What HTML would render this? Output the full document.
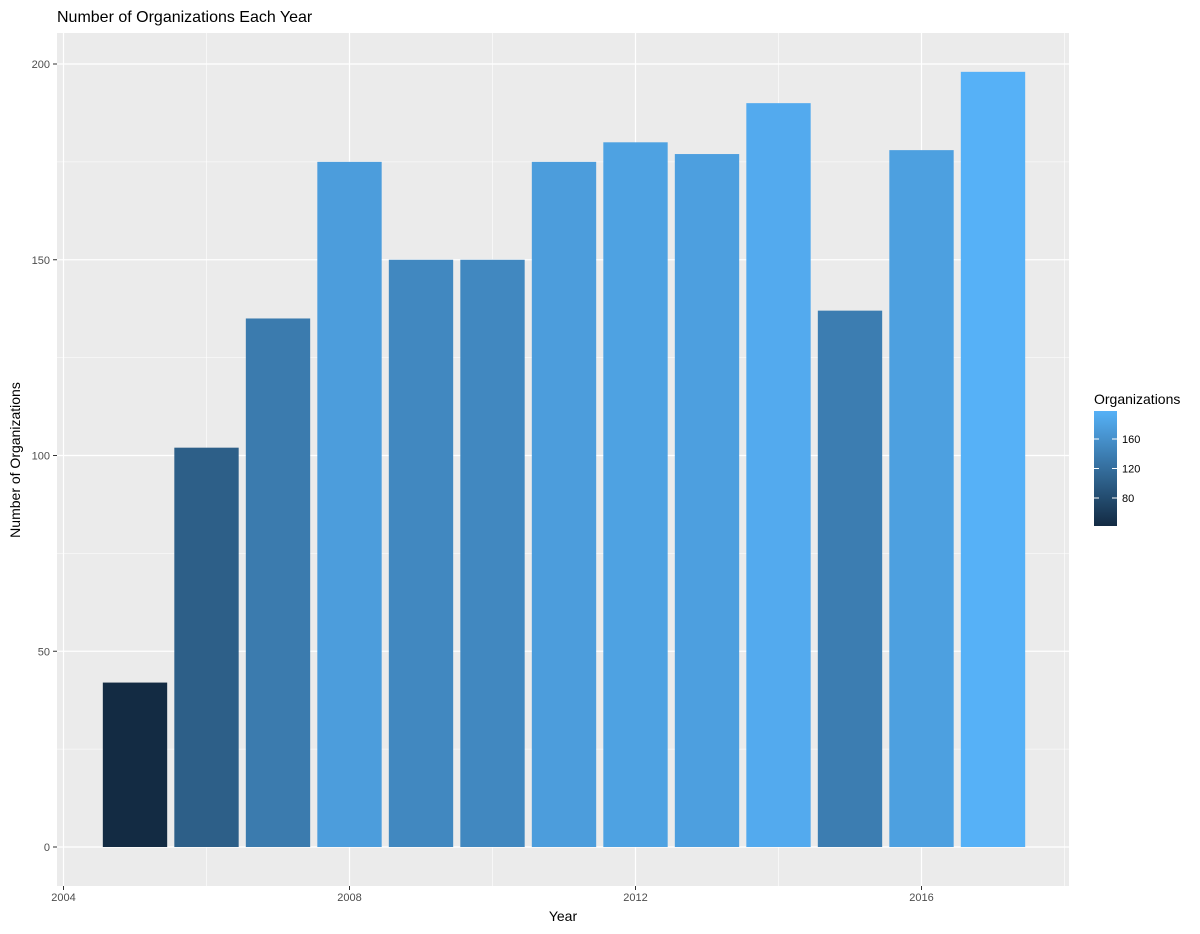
<!DOCTYPE html>
<html><head><meta charset="utf-8"><style>
body{margin:0;background:#fff;font-family:"Liberation Sans",sans-serif;}
svg text{font-family:"Liberation Sans",sans-serif;}
</style></head><body>
<svg id="chart" width="1200" height="929"></svg>
<script>
const years=[2005,2006,2007,2008,2009,2010,2011,2012,2013,2014,2015,2016,2017];
const counts=[42,102,135,175,150,150,175,180,177,190,137,178,198];
const yTicks=[0,50,100,150,200];
const xTicks=[2004,2008,2012,2016];
const legendTicks=[80,120,160];

const NS="http://www.w3.org/2000/svg";
const svg=document.getElementById('chart');
function el(tag,attrs,parent){const e=document.createElementNS(NS,tag);for(const k in attrs)e.setAttribute(k,attrs[k]);(parent||svg).appendChild(e);return e;}
const px0=57,px1=1069,py0=33,py1=886;
const xs=y=>63.5+(y-2004)*71.5;
const ys=v=>847-v*3.915;
const cmin=Math.min(...counts),cmax=Math.max(...counts);
function col(v){const t=(v-cmin)/(cmax-cmin);const a=[19,43,67],b=[86,177,247];return `rgb(${a.map((c,i)=>Math.round(c+(b[i]-c)*t)).join(',')})`;}

const panel=el('rect',{x:px0,y:py0,width:px1-px0,height:py1-py0,fill:'#EBEBEB'});

for(let i=0;i<yTicks.length-1;i++){const v=(yTicks[i]+yTicks[i+1])/2;el('line',{x1:px0,x2:px1,y1:ys(v),y2:ys(v),stroke:'#fff','stroke-width':0.6});}
for(let i=0;i<xTicks.length-1;i++){const v=(xTicks[i]+xTicks[i+1])/2;el('line',{x1:xs(v),x2:xs(v),y1:py0,y2:py1,stroke:'#fff','stroke-width':0.6});}
{const v=2018;el('line',{x1:xs(v),x2:xs(v),y1:py0,y2:py1,stroke:'#fff','stroke-width':0.6});}
yTicks.forEach(v=>{el('line',{x1:px0,x2:px1,y1:ys(v),y2:ys(v),stroke:'#fff','stroke-width':1.2});
 el('line',{x1:px0-4,x2:px0,y1:ys(v),y2:ys(v),stroke:'#333','stroke-width':1});
 const t=el('text',{x:px0-7,y:ys(v)+4,'text-anchor':'end','font-size':11,fill:'#4D4D4D'});t.textContent=v;
 });
xTicks.forEach(v=>{el('line',{x1:xs(v),x2:xs(v),y1:py0,y2:py1,stroke:'#fff','stroke-width':1.2});
 el('line',{x1:xs(v),x2:xs(v),y1:py1,y2:py1+4,stroke:'#333','stroke-width':1});
 const t=el('text',{x:xs(v),y:py1+15,'text-anchor':'middle','font-size':11,fill:'#4D4D4D'});t.textContent=v;
 });
years.forEach((y,i)=>{const w=0.9*71.5;
 const r=el('rect',{x:xs(y)-w/2,y:ys(counts[i]),width:w,height:ys(0)-ys(counts[i]),fill:col(counts[i])});
 });
let t=el('text',{x:57,y:22,'font-size':16,fill:'#000'});t.textContent='Number of Organizations Each Year';

t=el('text',{x:563,y:921,'text-anchor':'middle','font-size':14,fill:'#000'});t.textContent='Year';

t=el('text',{x:0,y:0,'text-anchor':'middle','font-size':14,fill:'#000',transform:'translate(20,460) rotate(-90)'});t.textContent='Number of Organizations';

t=el('text',{x:1094,y:404,'font-size':14,fill:'#000'});t.textContent='Organizations';

const defs=el('defs',{});const g=el('linearGradient',{id:'lg',x1:0,y1:1,x2:0,y2:0},defs);
for(let k=0;k<=10;k++){el('stop',{offset:k/10,'stop-color':col(cmin+(cmax-cmin)*k/10)},g);}
const lt=411,lb=526,ly=v=>lb-(v-cmin)/(cmax-cmin)*(lb-lt);
const lr=el('rect',{x:1094,y:lt,width:23,height:lb-lt,fill:'url(#lg)'});

legendTicks.forEach(v=>{el('line',{x1:1094,x2:1099,y1:ly(v),y2:ly(v),stroke:'#fff'});el('line',{x1:1112,x2:1117,y1:ly(v),y2:ly(v),stroke:'#fff'});
 const tt=el('text',{x:1122,y:ly(v)+4,'font-size':11,fill:'#000'});tt.textContent=v;
 });
</script>
</body></html>
